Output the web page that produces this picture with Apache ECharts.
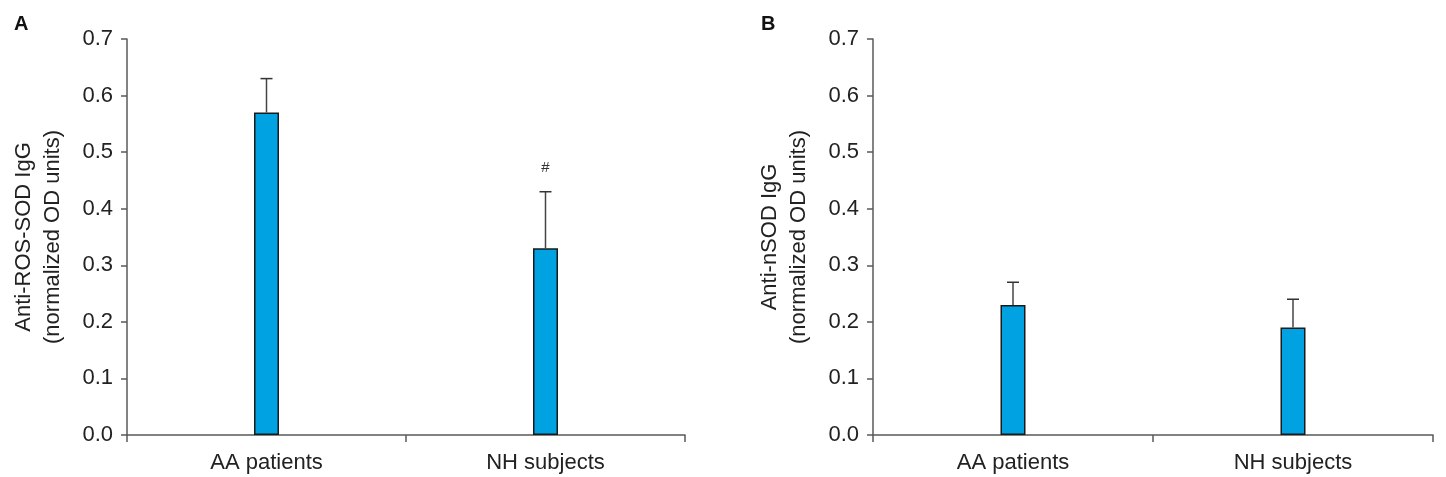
<!DOCTYPE html>
<html>
<head>
<meta charset="utf-8">
<script src="https://cdn.jsdelivr.net/npm/echarts@6/dist/echarts.min.js"></script>
<style>
  html, body { margin: 0; padding: 0; background: #fff; }
  #chart { width: 1446px; height: 477px; }
</style>
</head>
<body>
<div id="chart"></div>
<script>
var categories = ['AA patients', 'NH subjects'];

// panel A: anti-ROS-SOD IgG
var rosMeans = [0.57, 0.33];
var rosErr = [0.06, 0.10];
var rosMarks = ['', '#'];

// panel B: anti-nSOD IgG
var nsodMeans = [0.23, 0.19];
var nsodErr = [0.04, 0.05];
var nsodMarks = ['', ''];

var FONT = 'Liberation Sans';
var BAR_COLOR = '#00a2e2';
var EDGE = '#1a1a1a';
var AXIS = '#5a5a5a';

function errData(means, errs, marks) {
    return means.map(function (m, i) {
        return [i, m, m + errs[i]];
    });
}

var errMarks = {1: rosMarks, 3: nsodMarks};

function renderErr(params, api) {
    var x = api.value(0);
    var base = api.coord([x, api.value(1)]);
    var top = api.coord([x, api.value(2)]);
    var mark = errMarks[params.seriesIndex][params.dataIndex];
    var children = [
        { type: 'line', shape: { x1: base[0], y1: base[1], x2: top[0], y2: top[1] },
          style: { stroke: '#444', lineWidth: 1.5 } },
        { type: 'line', shape: { x1: top[0] - 6, y1: top[1], x2: top[0] + 6, y2: top[1] },
          style: { stroke: '#333', lineWidth: 1.5 } }
    ];
    if (mark) {
        children.push({ type: 'text', x: top[0], y: top[1] - 24,
            style: { text: mark, fill: '#333', font: '15px ' + FONT, align: 'center', verticalAlign: 'middle' } });
    }
    return { type: 'group', children: children };
}

function xAxisCfg(gi) {
    return {
        type: 'category', gridIndex: gi, data: categories,
        axisLine: { lineStyle: { color: AXIS, width: 1.5 } },
        axisTick: { show: true, length: 7, lineStyle: { color: AXIS, width: 1.5 } },
        axisLabel: { color: '#222', fontFamily: FONT, fontSize: 22, margin: 17 }
    };
}

function yAxisCfg(gi, name) {
    return {
        type: 'value', gridIndex: gi, min: 0, max: 0.7, interval: 0.1,
        name: name, nameLocation: 'middle', nameGap: 60, nameRotate: 90,
        nameTextStyle: { color: '#222', fontFamily: FONT, fontSize: 22, lineHeight: 29 },
        axisLine: { show: true, lineStyle: { color: AXIS, width: 1.5 } },
        axisTick: { show: true, length: 6, lineStyle: { color: AXIS, width: 1.5 } },
        axisLabel: { color: '#222', fontFamily: FONT, fontSize: 22, margin: 14,
            formatter: function (v) { return v.toFixed(1); } },
        splitLine: { show: false }
    };
}

function barSeries(gi, values) {
    return {
        type: 'bar', xAxisIndex: gi, yAxisIndex: gi, data: values, barWidth: 25,
        itemStyle: { color: BAR_COLOR, borderColor: EDGE, borderWidth: 1.5 },
        z: 2
    };
}

function errSeries(gi, means, errs, marks) {
    return {
        type: 'custom', xAxisIndex: gi, yAxisIndex: gi,
        data: errData(means, errs, marks), renderItem: renderErr, z: 3
    };
}

var chart = echarts.init(document.getElementById('chart'));

var option = {
    animation: false,
    backgroundColor: '#fff',
    title: [
        { text: 'A', left: 9, top: 9, textStyle: { fontFamily: FONT, fontSize: 20, fontWeight: 'bold', color: '#111' } },
        { text: 'B', left: 756, top: 9, textStyle: { fontFamily: FONT, fontSize: 20, fontWeight: 'bold', color: '#111' } }
    ],
    grid: [
        { left: 127, top: 39, width: 558, height: 396 },
        { left: 873, top: 39, width: 560, height: 396 }
    ],
    xAxis: [xAxisCfg(0), xAxisCfg(1)],
    yAxis: [
        yAxisCfg(0, 'Anti-ROS-SOD IgG\n(normalized OD units)'),
        yAxisCfg(1, 'Anti-nSOD IgG\n(normalized OD units)')
    ],
    series: [
        barSeries(0, rosMeans),
        errSeries(0, rosMeans, rosErr, rosMarks),
        barSeries(1, nsodMeans),
        errSeries(1, nsodMeans, nsodErr, nsodMarks)
    ]
};

chart.setOption(option);
</script>
</body>
</html>
